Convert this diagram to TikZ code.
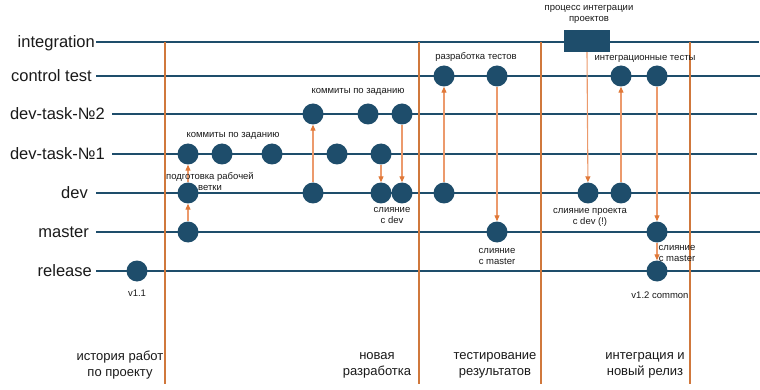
\documentclass[tikz,border=0pt]{standalone}
\usepackage{fontspec}
\setmainfont{Liberation Sans}
\usetikzlibrary{arrows.meta}
\definecolor{navy}{HTML}{1E4D6B}
\definecolor{sepc}{HTML}{D0783C}
\definecolor{arr}{HTML}{EC9A6C}
\definecolor{arrtip}{HTML}{E07838}
\definecolor{txt}{HTML}{1A1A1A}
\begin{document}
\begin{tikzpicture}[x=1pt,y=-1pt,
  commit/.style={circle,fill=navy,minimum size=21pt,inner sep=0pt},
  lane/.style={navy,line width=1.1pt},
  sepline/.style={sepc,line width=1.3pt},
  flow/.style={arr,line width=1.1pt,-{Triangle[length=6pt,width=5pt,color=arrtip]}},
  lanelabel/.style={anchor=base east,text=txt,font=\fontsize{16.5}{18}\selectfont,inner sep=0pt},
  note/.style={text=txt,font=\fontsize{9.5}{11}\selectfont,align=center,inner sep=0pt},
  phase/.style={text=txt,font=\fontsize{13}{16}\selectfont,align=center,inner sep=0pt}]
\useasboundingbox (0,0) rectangle (760,390);
\fill[white] (0,0) rectangle (760,390);

% lane labels
\node[lanelabel] (Lint) at (95,47.5) {integration};
\node[lanelabel] (Lct) at (92,81.5) {control test};
\node[lanelabel] (Lt2) at (105,119.5) {dev-task-№2};
\node[lanelabel] (Lt1) at (105,159.5) {dev-task-№1};
\node[lanelabel] (Ldev) at (88,198.5) {dev};
\node[lanelabel] (Lmas) at (89,237.5) {master};
\node[lanelabel] (Lrel) at (92,276.5) {release};

% lane lines
\coordinate (Sint) at (96,42);   \coordinate (Eint) at (759,42);
\coordinate (Sct) at (96,76);    \coordinate (Ect) at (760,76);
\coordinate (St2) at (112,114);  \coordinate (Et2) at (757,114);
\coordinate (St1) at (112,154);  \coordinate (Et1) at (757,154);
\coordinate (Sdev) at (96,193);  \coordinate (Edev) at (760,193);
\coordinate (Smas) at (96,232);  \coordinate (Emas) at (760,232);
\coordinate (Srel) at (96,271);  \coordinate (Erel) at (760,271);
\foreach \l in {int,ct,t2,t1,dev,mas,rel} \draw[lane] (S\l) -- (E\l);

% phase separators
\foreach \i/\x in {1/165,2/419,3/541,4/690}{
  \coordinate (Ta\i) at (\x,42); \coordinate (Tb\i) at (\x,384);
  \draw[sepline] (Ta\i) -- (Tb\i);
}

% commits
\node[commit] (r1) at (137,271) {};
\node[commit] (m1) at (188,232) {};
\node[commit] (d1) at (188,193) {};
\node[commit] (a1) at (188,154) {};
\node[commit] (a2) at (222,154) {};
\node[commit] (a3) at (272,154) {};
\node[commit] (a4) at (337,154) {};
\node[commit] (a5) at (381,154) {};
\node[commit] (b1) at (313,114) {};
\node[commit] (b2) at (368,114) {};
\node[commit] (b3) at (402,114) {};
\node[commit] (d2) at (313,193) {};
\node[commit] (d3) at (381,193) {};
\node[commit] (d4) at (402,193) {};
\node[commit] (c1) at (444,76) {};
\node[commit] (c2) at (497,76) {};
\node[commit] (d5) at (444,193) {};
\node[commit] (m2) at (497,232) {};
\node[fill=navy,minimum width=46pt,minimum height=22pt,inner sep=0pt] (proc) at (587,41) {};
\node[commit] (d6) at (588,193) {};
\node[commit] (d7) at (621,193) {};
\node[commit] (c3) at (621,76) {};
\node[commit] (c4) at (657,76) {};
\node[commit] (m3) at (657,232) {};
\node[commit] (r2) at (657,271) {};

% arrows
\draw[flow] (m1) -- (d1);
\draw[flow] (d1) -- (a1);
\draw[flow] (d2) -- (b1);
\draw[flow] (a5) -- (d3);
\draw[flow] (b3) -- (d4);
\draw[flow] (d5) -- (c1);
\draw[flow] (c2) -- (m2);
\draw[flow] (proc.south) -- (d6);
\draw[flow] (d7) -- (c3);
\draw[flow] (c4) -- (m3);
\draw[flow] (m3) -- (r2);

% notes
\node[note] (n1) at (137,293) {v1.1};
\node[note] (n2) at (210,182) {подготовка рабочей\\ветки};
\node[note] (n3) at (233,136) {коммиты по заданию};
\node[note] (n4) at (358,92) {коммиты по заданию};
\node[note] (n5) at (392,215) {слияние\\с dev};
\node[note] (n6) at (476,57) {разработка тестов};
\node[note] (n7) at (497,256) {слияние\\с master};
\node[note] (n8) at (589,14.5) {процесс интеграции\\проектов};
\node[note] (n9) at (645,59) {интеграционные тесты};
\node[note] (n10) at (590,217) {слияние проекта\\с dev (!)};
\node[note] (n11) at (677,253) {слияние\\с master};
\node[note] (n12) at (660,295) {v1.2 common};

% phases
\node[phase] (p1) at (120,365) {история работ\\по проекту};
\node[phase] (p2) at (377,365) {новая\\разработка};
\node[phase] (p3) at (495,365) {тестирование\\результатов};
\node[phase] (p4) at (645,365) {интеграция и\\новый релиз};
\end{tikzpicture}
\end{document}
